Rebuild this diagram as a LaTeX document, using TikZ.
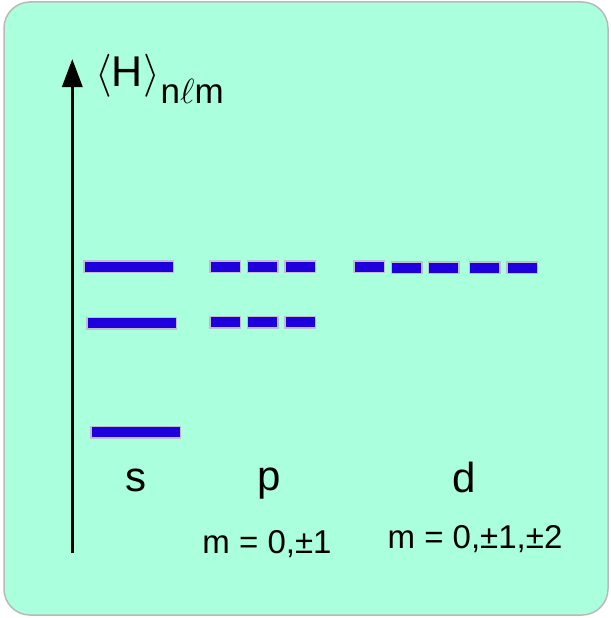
\documentclass[tikz,border=0pt]{standalone}
\usepackage{fix-cm}
\usepackage{fontspec}
\setmainfont{Liberation Sans}
\usetikzlibrary{arrows.meta}
\definecolor{mintbg}{RGB}{170,255,220}
\definecolor{levelblue}{RGB}{30,0,220}
\definecolor{levelrim}{RGB}{190,190,205}
\definecolor{framegray}{RGB}{185,185,185}
\newcommand{\fs}[1]{\fontsize{#1}{#1}\selectfont}

\begin{document}
\begin{tikzpicture}[x=1pt,y=-1pt,
  lvl/.style={draw=levelrim,fill=levelblue,line width=1.5pt,inner sep=0pt,minimum height=11.5pt},
  longlvl/.style={lvl,minimum width=89.5pt},
  shortlvl/.style={lvl,minimum width=30.5pt},
  orb/.style={font=\fs{42},anchor=base,inner sep=0pt},
  mlab/.style={font=\fs{33},anchor=base,inner sep=0pt}]
\useasboundingbox (0,0) rectangle (610,618);
% panel
\draw[rounded corners=26pt,fill=mintbg,draw=framegray,line width=1.5pt] (4,2) rectangle (608,615);
% energy axis
\coordinate (axbot) at (72.3,553);
\coordinate (axtop) at (72.3,59);
\draw[line width=3.3pt,-{Triangle[width=20pt,length=28pt]}] (axbot) -- (axtop);
\node[anchor=base west,inner sep=0pt,font=\fs{43}] (hlab) at (95,86) {$\langle$H\kern1pt$\rangle$\raisebox{-17pt}{\fs{35}n$\ell$m}};
% s levels
\node[longlvl] (s3) at (128.5,266.5) {};
\node[longlvl] (s2) at (131.5,323) {};
\node[longlvl] (s1) at (135.5,432) {};
% p levels (three m values)
\foreach \x [count=\i] in {225,262.5,300} {
  \node[shortlvl] (p3\i) at (\x,266.5) {};
  \node[shortlvl] (p2\i) at (\x,322) {};
}
% d levels (five m values)
\foreach \x/\y [count=\i] in {369/266.5,406.5/267.5,443.5/267.5,484.5/267.5,522/267.5}
  \node[shortlvl] (d3\i) at (\x,\y) {};
% labels
\node[orb] (slab) at (136,491) {s};
\node[orb] (plab) at (269,490) {p};
\node[orb] (dlab) at (464,492) {d};
\node[mlab] (pm) at (267,553) {m = 0,±1};
\node[mlab] (dm) at (475,548) {m = 0,±1,±2};
\end{tikzpicture}
\end{document}
